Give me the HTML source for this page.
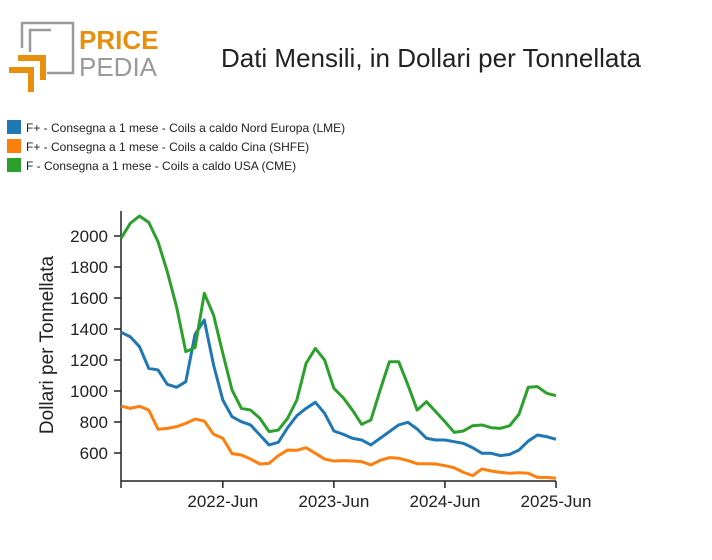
<!DOCTYPE html>
<html><head><meta charset="utf-8"><style>
body{margin:0;background:#fff;width:712px;height:555px;overflow:hidden;font-family:"Liberation Sans",sans-serif}
</style></head><body>
<svg width="712" height="555" xmlns="http://www.w3.org/2000/svg">
<g>
<path d="M22 48 V23 H73 V73 H47" fill="none" stroke="#9a9a9a" stroke-width="2.5"/>
<path d="M30 52 V30 H51" fill="none" stroke="#9a9a9a" stroke-width="2.5"/>
<path d="M18 58 H43 V80" fill="none" stroke="#e8900e" stroke-width="6"/>
<path d="M9 70 H31 V92" fill="none" stroke="#e8900e" stroke-width="6"/>
<text x="79" y="49" font-size="26" font-weight="bold" fill="#e8900e">PRICE</text>
<text x="79" y="76" font-size="26" fill="#9a9a9a">PEDIA</text>
</g>
<text x="431" y="67" font-size="26" text-anchor="middle" fill="#222">Dati Mensili, in Dollari per Tonnellata</text>
<g font-size="12" fill="#222">
<rect x="7" y="120" width="14" height="14" fill="#1f77b4"/><text x="26" y="132">F+ - Consegna a 1 mese - Coils a caldo Nord Europa (LME)</text>
<rect x="7" y="139" width="14" height="14" fill="#ff7f0e"/><text x="26" y="151">F+ - Consegna a 1 mese - Coils a caldo Cina (SHFE)</text>
<rect x="7" y="158" width="14" height="14" fill="#2ca02c"/><text x="26" y="170">F - Consegna a 1 mese - Coils a caldo USA (CME)</text>
</g>
<text transform="translate(53,345) rotate(-90)" font-size="19" text-anchor="middle" fill="#222">Dollari per Tonnellata</text>
<g id="axes"></g>
<g id="series"></g>
</svg>
<script>
const months=48;
const yTicks=[600,800,1000,1200,1400,1600,1800,2000];
const xTickLabels=["2022-Jun","2023-Jun","2024-Jun","2025-Jun"];
const xTickIndex=[11,23,35,47];
const lme=[1379,1350,1286,1146,1136,1043,1024,1060,1366,1458,1168,942,834,802,781,716,652,669,763,841,888,927,856,742,721,695,684,652,695,738,781,798,755,695,684,684,673,662,634,598,598,583,591,619,677,716,705,688];
const shfe=[903,888,901,877,753,759,770,791,819,806,721,695,596,587,561,529,533,583,619,617,634,598,561,548,551,548,544,523,553,570,566,551,531,531,529,518,505,475,454,497,484,475,469,473,469,443,443,437];
const cme=[1985,2082,2129,2088,1963,1770,1544,1254,1280,1630,1490,1243,1006,888,877,824,738,748,824,942,1179,1275,1200,1017,957,877,785,813,1006,1189,1189,1039,877,931,867,802,733,742,776,781,763,759,776,850,1024,1028,985,970];
const NS="http://www.w3.org/2000/svg";
const x0=121,x1=556,yTop=211,yBot=481;
function xs(i){return x0+(x1-x0)*i/(months-1);}
function ys(v){return 453-(v-600)*217/1400;}
const ax=document.getElementById('axes');
function mk(t,a,p){const e=document.createElementNS(NS,t);for(const k in a)e.setAttribute(k,a[k]);p.appendChild(e);return e;}
const yl=mk('line',{x1:x0,x2:x0,y1:yTop,y2:yBot,stroke:'#222','stroke-width':1.5},ax);


const xl=mk('line',{x1:x0,x2:x1,y1:yBot,y2:yBot,stroke:'#222','stroke-width':1.5},ax);


mk('line',{x1:x0,x2:x0,y1:yBot,y2:yBot+7,stroke:'#222','stroke-width':1.5},ax);
yTicks.forEach(v=>{
 mk('line',{x1:x0-7,x2:x0,y1:ys(v),y2:ys(v),stroke:'#222','stroke-width':1.5},ax);
 const t=mk('text',{x:x0-13,y:ys(v)+6,'font-size':17,'text-anchor':'end',fill:'#222'},ax);
 t.textContent=v;
 
 
});
xTickIndex.forEach((i,k)=>{
 mk('line',{x1:xs(i),x2:xs(i),y1:yBot,y2:yBot+7,stroke:'#222','stroke-width':1.5},ax);
 const t=mk('text',{x:xs(i),y:yBot+26,'font-size':17,'text-anchor':'middle',fill:'#222'},ax);
 t.textContent=xTickLabels[k];
 
 
});
const sg=document.getElementById('series');
[[lme,'#1f77b4','line-lme'],[shfe,'#ff7f0e','line-shfe'],[cme,'#2ca02c','line-cme']].forEach(([d,c,n])=>{
 const p=mk('polyline',{points:d.map((v,i)=>xs(i)+','+ys(v)).join(' '),fill:'none',stroke:c,'stroke-width':3,'stroke-linejoin':'round'},sg);
 
 
});
</script>
</body></html>
